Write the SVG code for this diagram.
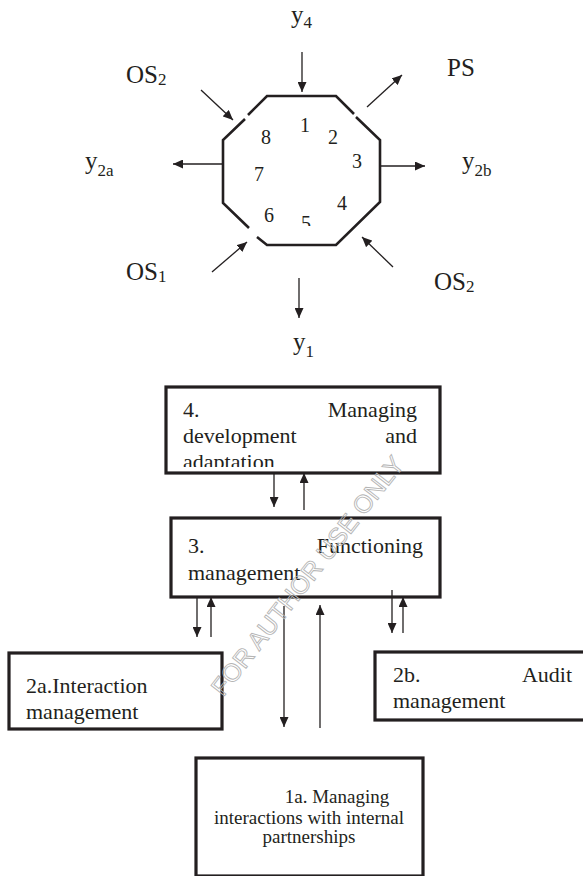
<svg xmlns="http://www.w3.org/2000/svg" width="583" height="876" viewBox="0 0 583 876">
  <style>
    .t { font-family: "Liberation Serif", "Times New Roman", serif; fill: #231f20; }
    .lab { font-size: 25px; }
    .sub { font-size: 17px; }
    .num { font-size: 20px; text-anchor: middle; }
    .bx { font-size: 22px; }
    .bx-s { font-size: 19px; text-anchor: middle; }
    .box { fill: #fff; stroke: #231f20; stroke-width: 3.2; }
    .oct { fill: none; stroke: #231f20; stroke-width: 2.6; stroke-linejoin: miter; }
    .c { fill: none; stroke: #231f20; stroke-width: 1.3; marker-end: url(#ah); }
    .wm { font-family: "Liberation Sans", Arial, sans-serif; font-size: 25px; fill: none; stroke: #b5b5b5; stroke-width: 0.9; }
  </style>
  <defs>
    <marker id="ah" markerUnits="userSpaceOnUse" markerWidth="10" markerHeight="9" refX="10" refY="4.5" orient="auto">
      <path d="M0,0 L10,4.5 L0,9 z" fill="#231f20"/>
    </marker>
    <clipPath id="clip5"><rect x="290" y="200" width="40" height="26"/></clipPath>
    <clipPath id="clipBox4"><rect x="168" y="389" width="270" height="78"/></clipPath>
  </defs>

  <rect width="583" height="876" fill="#fff"/>

  <!-- octagon with its eight sides numbered -->
  <g id="octagon">
    <path class="oct" d="M245,119 L223,140 L223,203 L249,228 M257,237 L267,245 L336,245 L380,202 L380,140 L356,117 M354,114 L336,96 L267,96 L248,115"/>
    <text class="t num" x="305" y="132">1</text>
    <text class="t num" x="333" y="144">2</text>
    <text class="t num" x="357" y="168">3</text>
    <text class="t num" x="342" y="210">4</text>
    <text class="t num" x="306" y="230" clip-path="url(#clip5)">5</text>
    <text class="t num" x="269" y="222">6</text>
    <text class="t num" x="259" y="181">7</text>
    <text class="t num" x="266" y="144">8</text>
  </g>

  <!-- inputs and outputs around the octagon -->
  <g id="label-y4"><text class="t lab" x="291" y="23">y<tspan class="sub" dy="5">4</tspan></text></g>
  <g id="label-ps"><text class="t lab" x="447" y="76">PS</text></g>
  <g id="label-os2-top"><text class="t lab" x="126" y="83">OS<tspan class="sub" dy="2">2</tspan></text></g>
  <g id="label-y2a"><text class="t lab" x="85" y="169">y<tspan class="sub" dy="7">2a</tspan></text></g>
  <g id="label-y2b"><text class="t lab" x="462" y="169">y<tspan class="sub" dy="7">2b</tspan></text></g>
  <g id="label-os1"><text class="t lab" x="126" y="280">OS<tspan class="sub" dy="2">1</tspan></text></g>
  <g id="label-os2-bottom"><text class="t lab" x="434" y="290">OS<tspan class="sub" dy="2">2</tspan></text></g>
  <g id="label-y1"><text class="t lab" x="293" y="350">y<tspan class="sub" dy="7">1</tspan></text></g>

  <!-- management blocks -->
  <g id="box4">
    <rect class="box" x="166" y="387" width="274" height="86"/>
    <text class="t bx" x="183" y="417">4.</text>
    <text class="t bx" x="417" y="417" text-anchor="end">Managing</text>
    <text class="t bx" x="183" y="443">development</text>
    <text class="t bx" x="417" y="443" text-anchor="end">and</text>
    <text class="t bx" x="183" y="469" clip-path="url(#clipBox4)">adaptation</text>
  </g>
  <g id="box3">
    <rect class="box" x="171" y="518" width="269" height="79"/>
    <text class="t bx" x="188" y="553">3.</text>
    <text class="t bx" x="423" y="553" text-anchor="end">Functioning</text>
    <text class="t bx" x="188" y="580">management</text>
  </g>
  <g id="box2a">
    <rect class="box" x="9" y="653" width="213" height="76"/>
    <text class="t bx" x="26" y="693">2a.Interaction</text>
    <text class="t bx" x="26" y="719">management</text>
  </g>
  <g id="box2b">
    <rect class="box" x="375" y="652" width="210" height="68"/>
    <text class="t bx" x="393" y="682">2b.</text>
    <text class="t bx" x="572" y="682" text-anchor="end">Audit</text>
    <text class="t bx" x="393" y="708">management</text>
  </g>
  <g id="box1a">
    <rect class="box" x="196" y="758" width="227" height="118"/>
    <text class="t bx-s" x="337" y="803">1a. Managing</text>
    <text class="t bx-s" x="309" y="824">interactions with internal</text>
    <text class="t bx-s" x="309" y="843">partnerships</text>
  </g>

  <!-- connectors -->
  <g id="connectors">
    <line class="c" x1="302" y1="52" x2="302" y2="92"/>
    <line class="c" x1="367" y1="107" x2="402" y2="75"/>
    <line class="c" x1="380" y1="166" x2="425" y2="166"/>
    <line class="c" x1="223" y1="164" x2="173" y2="164"/>
    <line class="c" x1="201" y1="90" x2="233" y2="120"/>
    <line class="c" x1="212" y1="272" x2="247" y2="242"/>
    <line class="c" x1="393" y1="267" x2="362" y2="237"/>
    <line class="c" x1="299" y1="278" x2="299" y2="318"/>

    <line class="c" x1="274" y1="473" x2="274" y2="507"/>
    <line class="c" x1="304" y1="510" x2="304" y2="473"/>

    <line class="c" x1="197" y1="598" x2="197" y2="637"/>
    <line class="c" x1="211" y1="637" x2="211" y2="597"/>
    <line class="c" x1="284" y1="606" x2="284" y2="727"/>
    <line class="c" x1="320" y1="728" x2="320" y2="605"/>
    <line class="c" x1="392" y1="590" x2="392" y2="633"/>
    <line class="c" x1="403" y1="633" x2="403" y2="597"/>
  </g>

  <!-- watermark -->
  <text class="wm" transform="translate(309,577) rotate(-52)" text-anchor="middle" dominant-baseline="middle">FOR AUTHOR USE ONLY</text>
</svg>
